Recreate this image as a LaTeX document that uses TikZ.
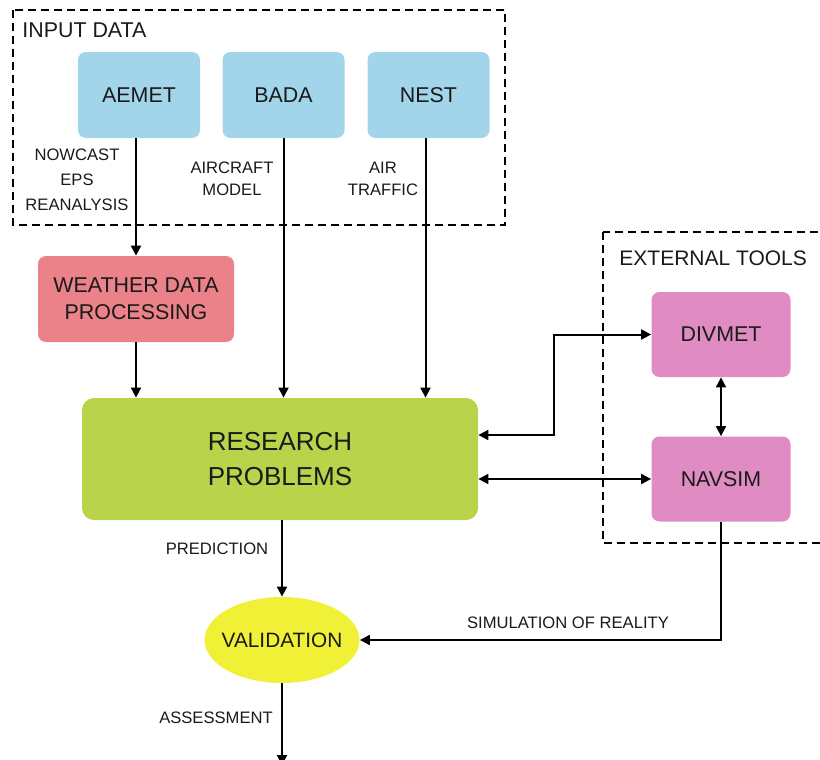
\documentclass[tikz,border=0pt]{standalone}
\usepackage{fontspec}
\setmainfont{Liberation Sans}
\usetikzlibrary{arrows.meta,shapes.geometric}
\definecolor{txt}{HTML}{1A1A1A}
\definecolor{inblue}{HTML}{A3D5EA}
\definecolor{wxred}{HTML}{EB8189}
\definecolor{resgreen}{HTML}{B9D44B}
\definecolor{toolpink}{HTML}{E08CC2}
\definecolor{valyellow}{HTML}{F0F037}

\begin{document}
\begin{tikzpicture}[x=0.5pt,y=-0.5pt,
  box/.style={rounded corners=4pt,minimum width=61pt,minimum height=43pt,inner sep=0pt,
    font=\fontsize{10.7}{13.5}\selectfont,text=txt,align=center},
  lbl/.style={font=\fontsize{8.3}{11}\selectfont,text=txt,align=center,inner sep=0pt},
  grp/.style={dash pattern=on 4pt off 2.5pt,line width=0.75pt},
  arr/.style={line width=1pt,-{Triangle[length=5pt,width=5pt]}},
  darr/.style={line width=1pt,{Triangle[length=5pt,width=5pt]}-{Triangle[length=5pt,width=5pt]}}]
\useasboundingbox (0,0) rectangle (820,760);
\clip (0,0) rectangle (820,760);
% groups
\draw[grp] (13,10) rectangle (505,225);
\draw[grp] (603,232) rectangle (835,543);
\node[lbl,anchor=west,font=\fontsize{10.7}{13}\selectfont] (inputlbl) at (22,30) {INPUT DATA};
\node[lbl,anchor=west,font=\fontsize{10.5}{13}\selectfont] (toolslbl) at (619,258) {EXTERNAL TOOLS};
% nodes
\node[box,fill=inblue] (aemet) at (139,95) {AEMET};
\node[box,fill=inblue] (bada) at (283.5,95) {BADA};
\node[box,fill=inblue] (nest) at (428.5,95) {NEST};
\node[box,fill=wxred,minimum width=98pt] (weather) at (136,299) {WEATHER DATA\\PROCESSING};
\node[box,fill=resgreen,minimum width=198pt,minimum height=61pt,rounded corners=6pt,
  font=\fontsize{13}{17.5}\selectfont] (research) at (280,459) {RESEARCH\\PROBLEMS};
\node[box,fill=toolpink,minimum width=69.5pt,minimum height=42.5pt] (divmet) at (721,334.5) {DIVMET};
\node[box,fill=toolpink,minimum width=69.5pt,minimum height=42.5pt] (navsim) at (721,479) {NAVSIM};
\node[ellipse,fill=valyellow,minimum width=77.5pt,minimum height=43pt,inner xsep=-3.6pt,inner ysep=0pt,
  font=\fontsize{10.4}{13}\selectfont,text=txt] (validation) at (282,640) {VALIDATION};
\coordinate (out) at (282,765);
% labels
\node[lbl,font=\fontsize{8.3}{12.5}\selectfont] (wxlbl) at (77,180) {NOWCAST\\EPS\\REANALYSIS};
\node[lbl] (aclbl) at (232,179) {AIRCRAFT\\MODEL};
\node[lbl] (trlbl) at (383,179) {AIR\\TRAFFIC};
\node[lbl] (predlbl) at (217,549) {PREDICTION};
\node[lbl] (asslbl) at (216,718) {ASSESSMENT};
\node[lbl] (simlbl) at (568,623) {SIMULATION OF REALITY};
% connectors
\draw[arr] (weather.north |- aemet.south) -- (weather.north);
\draw[arr] (bada.south) -- (bada.south |- research.north);
\draw[arr] ([xshift=-1.5pt]nest.south) -- ([xshift=-1.5pt]nest.south |- research.north);
\draw[arr] (weather.south) -- (weather.south |- research.north);
\draw[darr] ([yshift=12pt]research.east) -- ++(76,0) |- (divmet.west);
\draw[darr] (navsim.west -| research.east) -- (navsim.west);
\draw[darr] (divmet.south) -- (navsim.north);
\draw[arr] (validation.north |- research.south) -- (validation.north);
\draw[arr] (navsim.south) |- (validation.east);
\draw[arr] (validation.south) -- (out);
\end{tikzpicture}
\end{document}
